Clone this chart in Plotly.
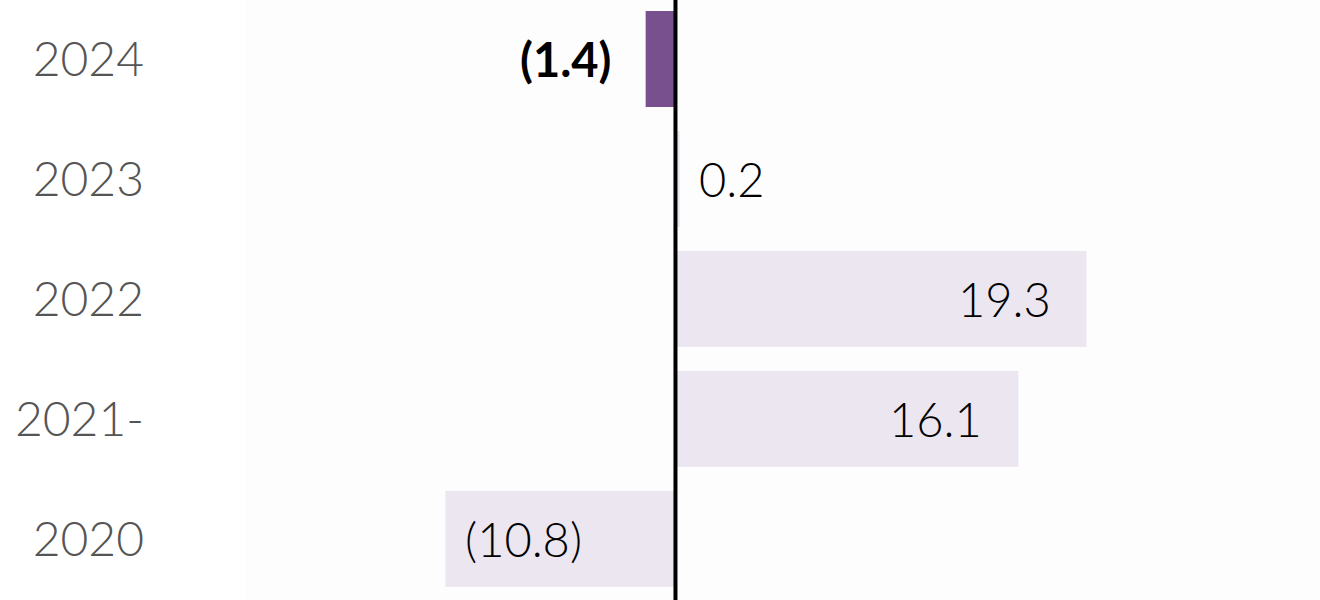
import plotly.graph_objects as go

years = ["2024", "2023", "2022", "2021-", "2020"]
values = [-1.4, 0.2, 19.3, 16.1, -10.8]
labels = ["(1.4)", "0.2", "19.3", "16.1", "(10.8)"]
highlight = [True, False, False, False, False]

PURPLE = "#77508D"
LAVENDER = "#EBE6F0"
FONT = "Lato Light, Lato, sans-serif"
FONT_BOLD = "Lato, sans-serif"

colors = [PURPLE if h else LAVENDER for h in highlight]
order = years[::-1]  # bottom-to-top category order

fig = go.Figure()
fig.add_trace(go.Bar(
    x=values, y=years, orientation="h",
    marker=dict(color=colors, line=dict(width=0)),
    hoverinfo="skip",
))

for y, v, lab, h in zip(years, values, labels, highlight):
    if h:
        xa, xs = "right", -32
    elif abs(v) < 1:
        xa, xs = "left", 17
    elif v > 0:
        xa, xs = "right", -34
    else:
        xa, xs = "left", 18
    fig.add_annotation(
        x=v, y=order.index(y), xref="x", yref="y", text=lab, showarrow=False,
        xanchor=xa, xshift=xs, yanchor="middle",
        font=dict(family=FONT_BOLD if h else FONT, size=47, color="#000000",
                  weight=700 if h else 300),
    )

fig.add_shape(type="line", xref="x", yref="paper", x0=0, x1=0, y0=0, y1=1,
              line=dict(color="#000000", width=4), layer="above")

fig.update_layout(
    width=1320, height=600,
    margin=dict(l=245, r=0, t=0, b=0),
    paper_bgcolor="white", plot_bgcolor="#FDFDFE",
    bargap=0.2, showlegend=False,
    xaxis=dict(range=[-20.21, 30.26], showgrid=False, zeroline=False,
               showticklabels=False, fixedrange=True),
    yaxis=dict(type="category", categoryorder="array", categoryarray=order,
               range=[-0.508, 4.492], showgrid=False, zeroline=False,
               tickfont=dict(family=FONT, size=48, color="#555555", weight=300),
               ticks="", ticklabelstandoff=100, automargin=False,
               fixedrange=True),
)

fig.write_html("out.html", config={"displayModeBar": False},
               post_script="document.body.style.margin='0';")
